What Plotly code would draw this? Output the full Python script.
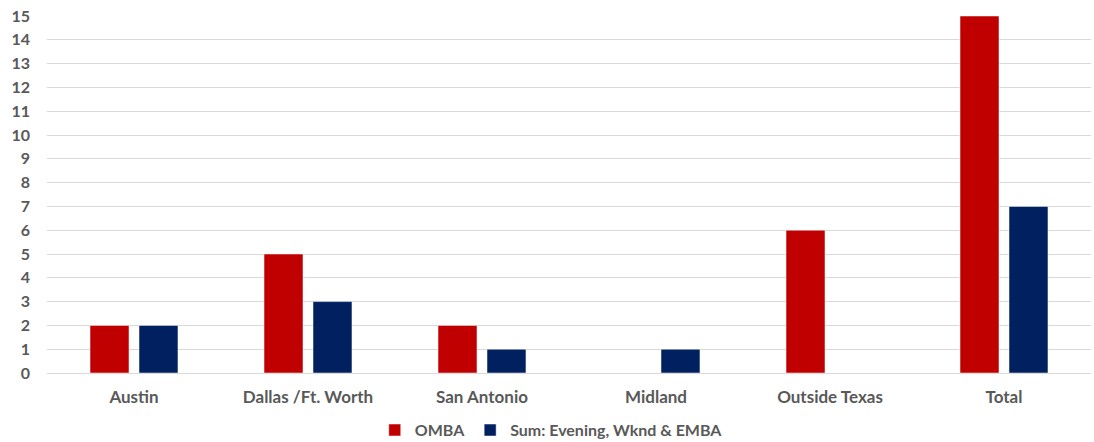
import plotly.graph_objects as go

categories = ["Austin", "Dallas /Ft. Worth", "San Antonio", "Midland", "Outside Texas", "Total"]
omba = [2, 5, 2, 0, 6, 15]
sum_other = [2, 3, 1, 1, 0, 7]
y_ticks = list(range(0, 16))

font_family = "Lato, 'Open Sans', sans-serif"
grey = "#595959"

fig = go.Figure()
fig.add_trace(go.Bar(name="OMBA", x=categories, y=omba, marker=dict(color="#C00000", line=dict(color="#FFFFFF", width=0.5))))
fig.add_trace(go.Bar(name="Sum: Evening, Wknd & EMBA", x=categories, y=sum_other, marker=dict(color="#002060", line=dict(color="#FFFFFF", width=0.5))))

fig.update_layout(
    width=1094, height=442,
    margin=dict(l=47, r=3, t=16, b=69, autoexpand=False),
    paper_bgcolor="white", plot_bgcolor="white",
    barmode="group", bargap=0.437, bargroupgap=0.204,
    font=dict(family=font_family, size=16, color=grey),
    showlegend=True,
    legend=dict(orientation="h", x=0.483, xanchor="center", y=-0.16, yanchor="middle",
                font=dict(family=font_family, size=16, color=grey, weight="bold"),
                itemwidth=30, traceorder="normal"),
)
fig.update_xaxes(showgrid=False, showline=False, ticks="", ticklabelstandoff=12, automargin=False,
                 tickfont=dict(family=font_family, size=17, color=grey, weight="bold"))
fig.update_yaxes(range=[0, 15], tickvals=y_ticks, showgrid=True, gridcolor="#D9D9D9", gridwidth=1,
                 zeroline=True, zerolinecolor="#D9D9D9", zerolinewidth=1, showline=False,
                 ticks="", ticklabelstandoff=16, automargin=False,
                 tickfont=dict(family=font_family, size=16, color=grey, weight="bold"))

fig.write_html("out.html", config={"displayModeBar": False},
               post_script="document.body.style.margin='0';")
